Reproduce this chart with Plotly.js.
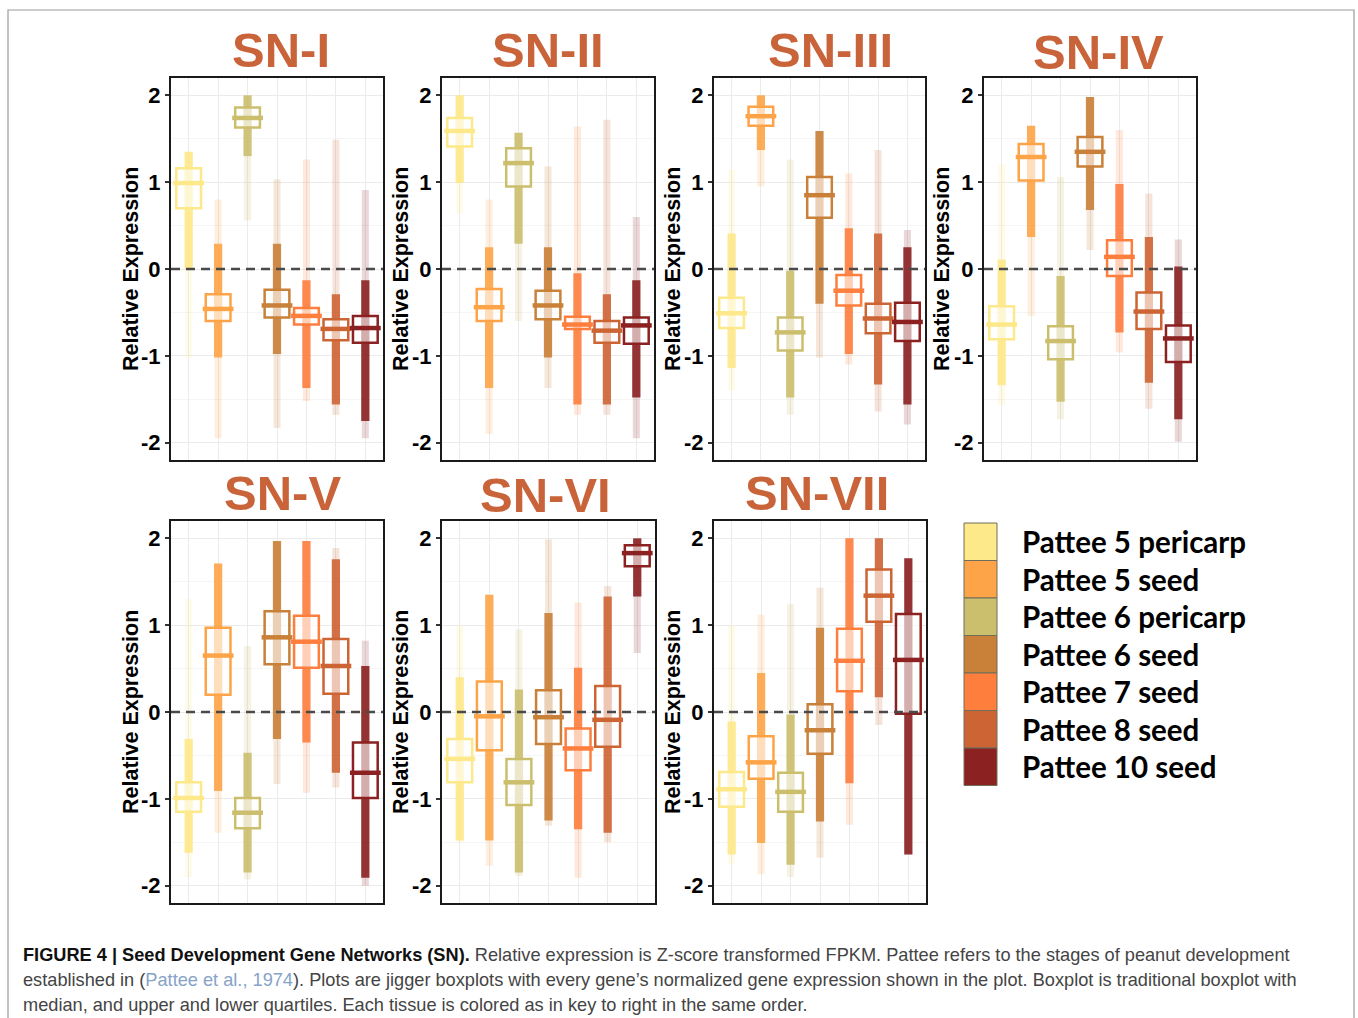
<!DOCTYPE html>
<html>
<head>
<meta charset="utf-8">
<script src="https://cdn.plot.ly/plotly-3.0.1.min.js"></script>
<style>
  html, body { margin: 0; padding: 0; background: #ffffff; }
  #chart { width: 1358px; height: 1018px; }
</style>
</head>
<body>
<div id="chart"></div>
<script>
// ---------------- DATA ----------------
const networks = ['SN-I', 'SN-II', 'SN-III', 'SN-IV', 'SN-V', 'SN-VI', 'SN-VII'];
const tissues = ['Pattee 5 pericarp', 'Pattee 5 seed', 'Pattee 6 pericarp', 'Pattee 6 seed',
                 'Pattee 7 seed', 'Pattee 8 seed', 'Pattee 10 seed'];
const tissueColors = ['#FDE88A', '#FDA448', '#CBBF6E', '#C98038', '#FE7E3E', '#CD6434', '#8B2121'];

// upper quartile, per network (rows) and tissue (columns)
const upperQuartile = [
  [1.16, -0.29, 1.86, -0.24, -0.45, -0.58, -0.54],
  [1.74, -0.23, 1.39, -0.25, -0.55, -0.60, -0.56],
  [-0.33, 1.87, -0.56, 1.06, -0.07, -0.40, -0.39],
  [-0.43, 1.44, -0.66, 1.52, 0.33, -0.27, -0.65],
  [-0.81, 0.97, -0.99, 1.16, 1.11, 0.84, -0.35],
  [-0.31, 0.35, -0.54, 0.25, -0.19, 0.30, 1.92],
  [-0.69, -0.28, -0.70, 0.09, 0.96, 1.64, 1.13]
];
const medianValue = [
  [0.99, -0.46, 1.74, -0.42, -0.54, -0.69, -0.68],
  [1.59, -0.44, 1.22, -0.42, -0.64, -0.71, -0.65],
  [-0.51, 1.76, -0.73, 0.85, -0.25, -0.57, -0.61],
  [-0.64, 1.29, -0.83, 1.35, 0.14, -0.49, -0.80],
  [-0.99, 0.65, -1.16, 0.86, 0.81, 0.53, -0.70],
  [-0.54, -0.05, -0.81, -0.06, -0.42, -0.09, 1.83],
  [-0.89, -0.58, -0.92, -0.21, 0.59, 1.34, 0.60]
];
const lowerQuartile = [
  [0.70, -0.60, 1.63, -0.56, -0.64, -0.82, -0.85],
  [1.41, -0.60, 0.95, -0.58, -0.69, -0.85, -0.86],
  [-0.68, 1.65, -0.94, 0.59, -0.42, -0.74, -0.83],
  [-0.81, 1.02, -1.04, 1.18, -0.08, -0.69, -1.07],
  [-1.15, 0.20, -1.34, 0.55, 0.51, 0.21, -0.99],
  [-0.81, -0.44, -1.07, -0.37, -0.67, -0.40, 1.68],
  [-1.09, -0.77, -1.15, -0.48, 0.24, 1.04, -0.02]
];
// extent of the dense part of the jittered gene cloud
const denseHigh = [
  [1.35, 0.29, 2.00, 0.29, -0.13, -0.29, -0.13],
  [2.00, 0.25, 1.57, 0.25, -0.05, -0.29, -0.13],
  [0.41, 2.00, -0.02, 1.59, 0.47, 0.41, 0.25],
  [0.11, 1.65, -0.08, 1.98, 0.98, 0.37, 0.03],
  [-0.31, 1.71, -0.47, 1.97, 1.97, 1.76, 0.53],
  [0.40, 1.35, 0.26, 1.14, 0.51, 1.33, 2.00],
  [-0.11, 0.45, -0.03, 0.97, 2.00, 2.00, 1.77]
];
const denseLow = [
  [0.00, -1.02, 1.30, -0.98, -1.37, -1.56, -1.75],
  [0.99, -1.37, 0.29, -1.02, -1.56, -1.56, -1.48],
  [-1.14, 1.37, -1.48, -0.40, -0.98, -1.33, -1.56],
  [-1.34, 0.37, -1.53, 0.68, -0.73, -1.31, -1.73],
  [-1.62, -0.91, -1.85, -0.31, -0.35, -0.70, -1.91],
  [-1.48, -1.48, -1.85, -1.25, -1.35, -1.39, 1.33],
  [-1.64, -1.51, -1.76, -1.26, -0.82, 0.17, -1.64]
];
// extent of the sparse outlying genes
const sparseHigh = [
  [1.35, 0.80, 2.00, 1.03, 1.26, 1.49, 0.91],
  [2.00, 0.80, 1.57, 1.18, 1.64, 1.72, 0.60],
  [1.14, 2.00, 1.26, 1.59, 1.10, 1.37, 0.45],
  [1.21, 1.65, 1.06, 1.98, 1.60, 0.87, 0.34],
  [1.30, 1.71, 0.76, 1.97, 1.97, 1.89, 0.82],
  [1.00, 1.35, 0.95, 1.99, 1.26, 1.45, 2.00],
  [1.00, 1.12, 1.24, 1.43, 2.00, 2.00, 1.77]
];
const sparseLow = [
  [-1.02, -1.95, 0.56, -1.83, -1.52, -1.68, -1.95],
  [0.64, -1.90, -0.60, -1.37, -1.68, -1.68, -1.95],
  [-1.40, 0.95, -1.68, -1.02, -1.10, -1.64, -1.79],
  [-1.57, -0.54, -1.73, 0.22, -0.96, -1.61, -1.99],
  [-1.90, -1.39, -1.93, -0.83, -0.93, -0.87, -2.00],
  [-1.50, -1.77, -1.89, -1.31, -1.91, -1.50, 0.68],
  [-1.75, -1.87, -1.90, -1.68, -1.30, -0.15, -1.64]
];
const yTickValues = [-2, -1, 0, 1, 2];
const yTickLabels = ['-2', '-1', '0', '1', '2'];
const yAxisLabel = 'Relative Expression';
const captionLines = [
  "<b><span style='color:#111'>FIGURE 4 | Seed Development Gene Networks (SN).</span></b> Relative expression is Z-score transformed FPKM. Pattee refers to the stages of peanut development",
  "established in (<span style='color:#86a3c9'>Pattee et al., 1974</span>). Plots are jigger boxplots with every gene’s normalized gene expression shown in the plot. Boxplot is traditional boxplot with",
  "median, and upper and lower quartiles. Each tissue is colored as in key to right in the same order."
];

// ---------------- LAYOUT GEOMETRY (pixels) ----------------
const W = 1358, H = 1018;
const panelPx = [
  {x0: 171, x1: 383, y0: 78, y1: 460, tx: 281, ty: 50, lx: 131},
  {x0: 442, x1: 654, y0: 78, y1: 460, tx: 548, ty: 50, lx: 401},
  {x0: 714, x1: 925, y0: 78, y1: 460, tx: 830, ty: 50, lx: 673},
  {x0: 984, x1: 1196, y0: 78, y1: 460, tx: 1098, ty: 52, lx: 942},
  {x0: 171, x1: 383, y0: 521, y1: 903, tx: 282, ty: 493, lx: 131},
  {x0: 442, x1: 655, y0: 521, y1: 903, tx: 545, ty: 495, lx: 401},
  {x0: 714, x1: 926, y0: 521, y1: 903, tx: 817, ty: 493, lx: 673}
];
const fx = p => p / W;
const fy = p => 1 - p / H;

function rgba(hex, a) {
  const n = parseInt(hex.slice(1), 16);
  return `rgba(${(n >> 16) & 255},${(n >> 8) & 255},${n & 255},${a})`;
}

const traces = [];
const layout = {
  width: W, height: H,
  margin: {l: 0, r: 0, t: 0, b: 0},
  paper_bgcolor: '#ffffff',
  plot_bgcolor: '#ffffff',
  showlegend: false,
  barmode: 'overlay',
  boxmode: 'overlay',
  font: {family: 'Liberation Sans, Arial, sans-serif', color: '#000'},
  annotations: [],
  shapes: []
};

const xCats = tissues.map((t, i) => i + 1);

networks.forEach((net, k) => {
  const sfx = k === 0 ? '' : String(k + 1);
  const xa = 'x' + sfx, ya = 'y' + sfx;
  const p = panelPx[k];

  layout['xaxis' + sfx] = {
    domain: [fx(p.x0), fx(p.x1)],
    anchor: ya,
    range: [0.4, 7.6],
    tickvals: xCats,
    showticklabels: false,
    ticks: '',
    showgrid: true,
    gridcolor: '#ebebeb',
    gridwidth: 1,
    zeroline: false,
    showline: true,
    mirror: true,
    linecolor: '#1a1a1a',
    linewidth: 2,
    fixedrange: true
  };
  layout['yaxis' + sfx] = {
    domain: [fy(p.y1), fy(p.y0)],
    anchor: xa,
    range: [-2.2, 2.2],
    tickvals: yTickValues,
    ticktext: yTickLabels,
    ticks: 'outside',
    ticklen: 4,
    tickwidth: 2,
    tickcolor: '#333',
    tickfont: {family: 'Liberation Sans, Arial, sans-serif', size: 22, color: '#000', weight: 'bold'},
    showgrid: true,
    gridcolor: '#ebebeb',
    gridwidth: 1,
    minor: {tickmode: 'linear', tick0: 0.5, dtick: 1, showgrid: true, gridcolor: '#f5f5f5', gridwidth: 1, ticks: ''},
    zeroline: false,
    showline: true,
    mirror: true,
    linecolor: '#1a1a1a',
    linewidth: 2,
    fixedrange: true
  };

  // sparse outlying genes
  traces.push({
    type: 'bar', xaxis: xa, yaxis: ya,
    x: xCats,
    base: sparseLow[k],
    y: sparseHigh[k].map((v, i) => v - sparseLow[k][i]),
    width: 0.24,
    marker: {color: tissueColors.map(c => rgba(c, 0.18)), line: {width: 0}},
    hoverinfo: 'skip'
  });
  // dense gene cloud
  traces.push({
    type: 'bar', xaxis: xa, yaxis: ya,
    x: xCats,
    base: denseLow[k],
    y: denseHigh[k].map((v, i) => v - denseLow[k][i]),
    width: 0.28,
    marker: {color: tissueColors.map(c => rgba(c, 0.9)), line: {width: 0}},
    hoverinfo: 'skip'
  });
  // boxes
  tissues.forEach((t, i) => {
    traces.push({
      type: 'box', xaxis: xa, yaxis: ya,
      name: t,
      x: [xCats[i]],
      q1: [lowerQuartile[k][i]],
      median: [medianValue[k][i]],
      q3: [upperQuartile[k][i]],
      lowerfence: [lowerQuartile[k][i]],
      upperfence: [upperQuartile[k][i]],
      width: 0.84,
      boxpoints: false,
      line: {color: tissueColors[i], width: 2.5},
      fillcolor: 'rgba(255,255,255,0.6)',
      hoverinfo: 'skip'
    });
  });
  // thick median bars
  traces.push({
    type: 'scatter', mode: 'markers', xaxis: xa, yaxis: ya,
    x: xCats,
    y: medianValue[k],
    marker: {symbol: 'line-ew', size: 22, color: tissueColors, line: {color: tissueColors, width: 4.5}},
    hoverinfo: 'skip'
  });

  // dashed zero reference line
  layout.shapes.push({
    type: 'line', xref: xa + ' domain', yref: ya,
    x0: 0, x1: 1, y0: 0, y1: 0,
    line: {color: '#4a4a4a', width: 2.5, dash: '9px,6px'},
    layer: 'above'
  });

  // panel title
  layout.annotations.push({
    xref: 'paper', yref: 'paper', x: fx(p.tx), y: fy(p.ty),
    xanchor: 'center', yanchor: 'middle', showarrow: false,
    text: net,
    font: {family: 'Liberation Sans, Arial, sans-serif', size: 49, color: '#C9643A', weight: 'bold'}
  });
  // y-axis label
  layout.annotations.push({
    xref: 'paper', yref: 'paper', x: fx(p.lx), y: fy((p.y0 + p.y1) / 2),
    xanchor: 'center', yanchor: 'middle', showarrow: false,
    textangle: -90,
    text: yAxisLabel,
    font: {family: 'Liberation Sans, Arial, sans-serif', size: 21.5, color: '#000', weight: 'bold'}
  });
});

// legend key
const keyX0 = 964, keyX1 = 997, keyY0 = 523, keyStep = 37.5;
tissues.forEach((t, i) => {
  layout.shapes.push({
    type: 'rect', xref: 'paper', yref: 'paper',
    x0: fx(keyX0), x1: fx(keyX1), y0: fy(keyY0 + keyStep * (i + 1)), y1: fy(keyY0 + keyStep * i),
    fillcolor: tissueColors[i], line: {color: '#6e6e5a', width: 1}
  });
  layout.annotations.push({
    xref: 'paper', yref: 'paper', x: fx(1020), y: fy(keyY0 + keyStep * (i + 0.5)),
    xanchor: 'left', yanchor: 'middle', showarrow: false,
    text: t,
    font: {family: 'Lato, Open Sans, sans-serif', size: 29.5, color: '#000', weight: 'bold'}
  });
});

// caption
const capY = [955, 980, 1005];
captionLines.forEach((line, i) => {
  layout.annotations.push({
    xref: 'paper', yref: 'paper', x: fx(21), y: fy(capY[i]),
    xanchor: 'left', yanchor: 'middle', showarrow: false, align: 'left',
    text: line,
    font: {family: 'Liberation Sans, Arial, sans-serif', size: 18.2, color: '#444'}
  });
});

// figure frame
layout.shapes.push({
  type: 'rect', xref: 'paper', yref: 'paper',
  x0: fx(8), x1: fx(1354), y0: fy(1030), y1: fy(10),
  line: {color: '#9a9a9a', width: 1.2}, fillcolor: 'rgba(0,0,0,0)', layer: 'below'
});

Plotly.newPlot('chart', traces, layout, {displayModeBar: false, staticPlot: true});
</script>
</body>
</html>
